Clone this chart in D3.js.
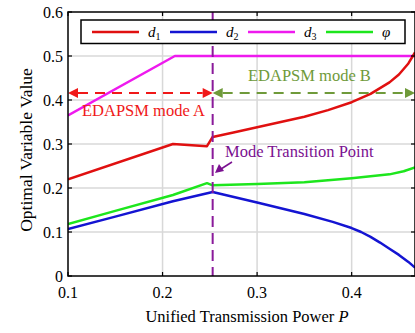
<!DOCTYPE html>
<html><head><meta charset="utf-8">
<script src="https://cdn.jsdelivr.net/npm/d3@7"></script>
<style>body{margin:0;background:#fff}svg{display:block}</style>
</head><body>
<svg id="c" width="415" height="333"></svg>
<script>
const xTicks = [0.1, 0.2, 0.3, 0.4];
const yTicks = [0, 0.1, 0.2, 0.3, 0.4, 0.5, 0.6];
const d1P = [0.1, 0.211, 0.247, 0.253, 0.275, 0.3, 0.325, 0.35, 0.375, 0.4, 0.42, 0.44, 0.45, 0.46, 0.467];
const d1V = [0.220, 0.300, 0.295, 0.316, 0.326, 0.338, 0.350, 0.362, 0.377, 0.395, 0.414, 0.440, 0.458, 0.483, 0.508];
const d2P = [0.1, 0.15, 0.211, 0.253, 0.3, 0.35, 0.38, 0.4, 0.41, 0.42, 0.43, 0.44, 0.45, 0.46, 0.467];
const d2V = [0.107, 0.135, 0.170, 0.191, 0.167, 0.141, 0.123, 0.109, 0.100, 0.089, 0.076, 0.062, 0.048, 0.032, 0.019];
const d3P = [0.1, 0.213, 0.467];
const d3V = [0.365, 0.5, 0.5];
const phP = [0.1, 0.15, 0.211, 0.247, 0.253, 0.3, 0.35, 0.4, 0.44, 0.455, 0.467];
const phV = [0.118, 0.148, 0.184, 0.211, 0.206, 0.209, 0.213, 0.222, 0.231, 0.238, 0.247];
const transitionP = 0.253;
const arrowY = 0.416;

const L = 68, R = 415, T = 12, B = 276;
const svg = d3.select('#c');
const x = d3.scaleLinear().domain([0.1, 0.467]).range([L, R]);
const y = d3.scaleLinear().domain([0, 0.6]).range([B, T]);
const font = '"Liberation Serif","Times New Roman",serif';

// grid
svg.append('g').selectAll('line').data(xTicks.slice(1)).join('line')
  .attr('x1', d => x(d)).attr('x2', d => x(d)).attr('y1', T).attr('y2', B)
  .attr('stroke', '#d8d8d8').attr('stroke-width', 1.5);
svg.append('g').selectAll('line').data(yTicks.slice(1, -1)).join('line')
  .attr('x1', L).attr('x2', R).attr('y1', d => y(d)).attr('y2', d => y(d))
  .attr('stroke', '#d8d8d8').attr('stroke-width', 1.5);

svg.append('defs').append('clipPath').attr('id', 'clip').append('rect')
  .attr('x', L).attr('y', T).attr('width', R - L).attr('height', B - T);

// series
const series = [
  {P: d3P, V: d3V, c: '#ee1aee'},
  {P: d1P, V: d1V, c: '#e01010'},
  {P: phP, V: phV, c: '#1de61d'},
  {P: d2P, V: d2V, c: '#1414d2'}
];
const line = d3.line().x(d => x(d[0])).y(d => y(d[1]));
const gl = svg.append('g').attr('clip-path', 'url(#clip)');
series.forEach(s => {
  gl.append('path').attr('d', line(s.P.map((p, i) => [p, s.V[i]])))
    .attr('fill', 'none').attr('stroke', s.c).attr('stroke-width', 2.5)
    .attr('stroke-linejoin', 'round');
});

// transition dashed line
svg.append('line').attr('x1', x(transitionP)).attr('x2', x(transitionP))
  .attr('y1', T).attr('y2', B).attr('stroke', '#8a1a9a').attr('stroke-width', 2)
  .attr('stroke-dasharray', '11,6');

// arrows
function dblArrow(x1, x2, yy, col) {
  const g = svg.append('g');
  const h = 10, w = 5;
  g.append('line').attr('x1', x1 + h).attr('x2', x2 - h).attr('y1', yy).attr('y2', yy)
    .attr('stroke', col).attr('stroke-width', 2).attr('stroke-dasharray', '10,7');
  g.append('path').attr('d', `M${x1},${yy}L${x1 + h},${yy - w}L${x1 + h},${yy + w}Z`).attr('fill', col);
  g.append('path').attr('d', `M${x2},${yy}L${x2 - h},${yy - w}L${x2 - h},${yy + w}Z`).attr('fill', col);
}
dblArrow(x(0.1), x(transitionP), y(arrowY), '#f01818');
dblArrow(x(transitionP), R, y(arrowY), '#6f9a3a');

svg.append('text').attr('x', 82).attr('y', 116).attr('font-family', font).attr('font-size', 16.5)
  .attr('fill', '#f01818').text('EDAPSM mode A');
svg.append('text').attr('x', 248).attr('y', 81).attr('font-family', font).attr('font-size', 16.5)
  .attr('fill', '#6f9a3a').text('EDAPSM mode B');
svg.append('text').attr('x', 225).attr('y', 157).attr('font-family', font).attr('font-size', 16.5)
  .attr('fill', '#7a1090').text('Mode Transition Point');
// small arrow
svg.append('line').attr('x1', 232).attr('y1', 162).attr('x2', 221).attr('y2', 169)
  .attr('stroke', '#7a1090').attr('stroke-width', 1.5);
svg.append('path').attr('d', 'M215,173L219,164L224,171Z').attr('fill', '#7a1090');

// frame
svg.append('rect').attr('x', L).attr('y', T).attr('width', R - L).attr('height', B - T)
  .attr('fill', 'none').attr('stroke', '#000').attr('stroke-width', 1.5);

// ticks inside
const tl = 4;
xTicks.forEach(t => {
  svg.append('line').attr('x1', x(t)).attr('x2', x(t)).attr('y1', B).attr('y2', B - tl).attr('stroke', '#000').attr('stroke-width', 1.2);
  svg.append('line').attr('x1', x(t)).attr('x2', x(t)).attr('y1', T).attr('y2', T + tl).attr('stroke', '#000').attr('stroke-width', 1.2);
});
yTicks.forEach(t => {
  svg.append('line').attr('x1', L).attr('x2', L + tl).attr('y1', y(t)).attr('y2', y(t)).attr('stroke', '#000').attr('stroke-width', 1.2);
  svg.append('line').attr('x1', R).attr('x2', R - tl).attr('y1', y(t)).attr('y2', y(t)).attr('stroke', '#000').attr('stroke-width', 1.2);
});

// tick labels
svg.append('g').selectAll('text').data(xTicks).join('text')
  .attr('x', d => x(d)).attr('y', 298).attr('text-anchor', 'middle')
  .attr('font-family', font).attr('font-size', 16).text(d => d3.format('.1f')(d));
svg.append('g').selectAll('text').data(yTicks).join('text')
  .attr('x', 63).attr('y', d => y(d) + 5.5).attr('text-anchor', 'end')
  .attr('font-family', font).attr('font-size', 16).text(d => d === 0 ? '0' : d3.format('.1f')(d));

// axis titles
const xt = svg.append('text').attr('x', 247).attr('y', 322).attr('text-anchor', 'middle')
  .attr('font-family', font).attr('font-size', 16.5);
xt.append('tspan').text('Unified Transmission Power ');
xt.append('tspan').attr('font-style', 'italic').text('P');
svg.append('text').attr('transform', 'translate(32,150) rotate(-90)')
  .attr('text-anchor', 'middle').attr('font-family', font).attr('font-size', 17.5)
  .text('Optimal Variable Value');

// legend
const lg = svg.append('g');
lg.append('rect').attr('x', 81).attr('y', 20).attr('width', 324).attr('height', 23.5)
  .attr('fill', '#fff').attr('stroke', '#000').attr('stroke-width', 1.5);
const legItems = [
  {c: '#e01010', x: 92, lab: 'd', sub: '1'},
  {c: '#1414d2', x: 170, lab: 'd', sub: '2'},
  {c: '#ee1aee', x: 248, lab: 'd', sub: '3'},
  {c: '#1de61d', x: 326, lab: 'φ', sub: ''}
];
legItems.forEach(it => {
  lg.append('line').attr('x1', it.x).attr('x2', it.x + 47).attr('y1', 32).attr('y2', 32)
    .attr('stroke', it.c).attr('stroke-width', 2.5);
  const t = lg.append('text').attr('x', it.x + 56).attr('y', 37).attr('font-family', font).attr('font-size', 15);
  t.append('tspan').attr('font-style', 'italic').text(it.lab);
  if (it.sub) t.append('tspan').attr('font-size', 10).attr('dy', 3).text(it.sub);
});
</script>
</body></html>
